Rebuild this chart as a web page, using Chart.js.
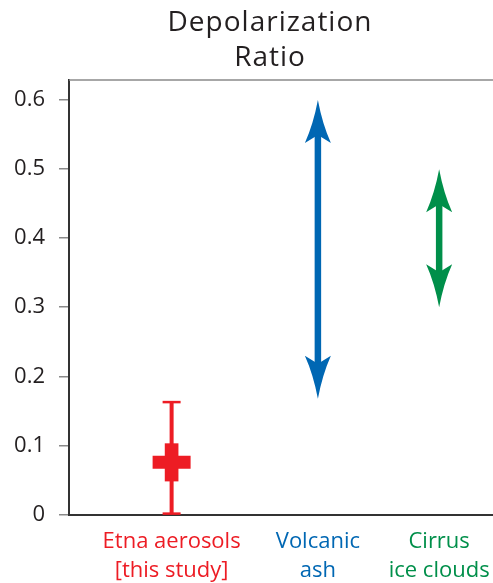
<!DOCTYPE html>
<html>
<head>
<meta charset="utf-8">
<title>Depolarization Ratio</title>
<script src="https://cdn.jsdelivr.net/npm/chart.js@4.4.1/dist/chart.umd.min.js"></script>
<style>
  html, body { margin: 0; padding: 0; background: #fff; }
  #wrap { width: 493px; height: 583px; }
</style>
</head>
<body>
<div id="wrap"><canvas id="myChart"></canvas></div>
<script>
(function () {
  "use strict";

  var titleLines = ["Depolarization", "Ratio"];
  var categories = [["Etna aerosols", "[this study]"], ["Volcanic", "ash"], ["Cirrus", "ice clouds"]];
  var categoryX = [0.242, 0.587, 0.873];
  var categoryColors = ["#ed1c24", "#0067b3", "#008f4a"];
  var yTicks = [0, 0.1, 0.2, 0.3, 0.4, 0.5, 0.6];

  // Etna: full range (whiskers), box, central value
  var etnaRange = [0.002, 0.163];
  var etnaBox = [0.049, 0.103];
  var etnaMean = 0.076;
  // literature ranges, drawn as double arrows
  var ashRange = [0.168, 0.599];
  var cirrusRange = [0.30, 0.499];

  var red = categoryColors[0];

  function drawHead(ctx, x, y, dir) {
    // dir 1 = pointing up, -1 = pointing down
    ctx.beginPath();
    ctx.moveTo(x, y);
    ctx.quadraticCurveTo(x - 4.5, y + dir * 24, x - 13, y + dir * 43);
    ctx.lineTo(x, y + dir * 35);
    ctx.lineTo(x + 13, y + dir * 43);
    ctx.quadraticCurveTo(x + 4.5, y + dir * 24, x, y);
    ctx.closePath();
    ctx.fill();
  }

  var arrows = {
    id: "arrows",
    afterDatasetsDraw: function (chart) {
      var ctx = chart.ctx;
      chart.data.datasets.forEach(function (ds, i) {
        if (!ds.arrowColor) return;
        var pts = chart.getDatasetMeta(i).data;
        var x = pts[0].x;
        var yTop = Math.min(pts[0].y, pts[1].y);
        var yBot = Math.max(pts[0].y, pts[1].y);
        ctx.save();
        ctx.strokeStyle = ds.arrowColor;
        ctx.fillStyle = ds.arrowColor;
        ctx.lineWidth = 6.5;
        ctx.beginPath();
        ctx.moveTo(x, yTop + 30);
        ctx.lineTo(x, yBot - 30);
        ctx.stroke();
        drawHead(ctx, x, yTop, 1);
        drawHead(ctx, x, yBot, -1);
        ctx.restore();
      });
    }
  };

  var frame = {
    id: "frame",
    afterDraw: function (chart) {
      var ctx = chart.ctx;
      var a = chart.chartArea;
      ctx.save();
      // top border
      ctx.strokeStyle = "#8a8a8a";
      ctx.lineWidth = 1.5;
      ctx.beginPath();
      ctx.moveTo(a.left, a.top);
      ctx.lineTo(a.right, a.top);
      ctx.stroke();
      // title
      ctx.fillStyle = "#231f20";
      ctx.font = '28px "Open Sans"';
      ctx.letterSpacing = "1px";
      ctx.textAlign = "center";
      ctx.textBaseline = "alphabetic";
      var cx = (a.left + a.right) / 2 - 11;
      ctx.fillText(titleLines[0], cx, 31);
      ctx.fillText(titleLines[1], cx, 66);
      ctx.restore();
    }
  };

  var tickFont = { family: "Open Sans", size: 22, lineHeight: 1.32 };

  var ctx = document.getElementById("myChart");
  var myChart = new Chart(ctx, {
    type: "line",
    data: {
      datasets: [
        {
          label: "Etna central value",
          data: [{ x: categoryX[0], y: etnaMean }],
          showLine: false,
          pointStyle: "line",
          pointRadius: 19,
          pointBorderWidth: 13,
          borderColor: red,
          backgroundColor: red,
        },
        {
          label: "Etna box",
          type: "bar",
          data: [{ x: categoryX[0], y: etnaBox }],
          barThickness: 13,
          backgroundColor: red,
          borderWidth: 0,
        },
        {
          label: "Etna range",
          data: [
            { x: categoryX[0], y: etnaRange[0] },
            { x: categoryX[0], y: etnaRange[1] },
          ],
          borderColor: red,
          backgroundColor: red,
          borderWidth: 4,
          pointStyle: "line",
          pointRadius: 9,
          pointBorderWidth: 2.5,
        },
        {
          label: "Volcanic ash",
          data: [
            { x: categoryX[1], y: ashRange[0] },
            { x: categoryX[1], y: ashRange[1] },
          ],
          arrowColor: categoryColors[1],
          showLine: false,
          pointRadius: 0,
        },
        {
          label: "Cirrus ice clouds",
          data: [
            { x: categoryX[2], y: cirrusRange[0] },
            { x: categoryX[2], y: cirrusRange[1] },
          ],
          arrowColor: categoryColors[2],
          showLine: false,
          pointRadius: 0,
        },
      ],
    },
    options: {
      responsive: true,
      maintainAspectRatio: false,
      animation: false,
      events: [],
      layout: { autoPadding: false, padding: { top: 80, left: 0, right: 0, bottom: 0 } },
      plugins: {
        legend: { display: false },
        tooltip: { enabled: false },
        title: { display: false },
      },
      scales: {
        x: {
          type: "linear",
          min: 0,
          max: 1,
          offset: false,
          grid: { display: false, offset: false },
          border: { display: true, color: "#333", width: 2 },
          afterBuildTicks: function (scale) {
            scale.ticks = categoryX.map(function (v) { return { value: v }; });
          },
          afterFit: function (scale) {
            scale.height = 68;
            scale.paddingLeft = 0;
            scale.paddingRight = 0;
          },
          ticks: {
            autoSkip: false,
            maxRotation: 0,
            padding: 4,
            font: tickFont,
            color: function (c) { return categoryColors[c.index]; },
            callback: function (v, i) { return categories[i]; },
          },
        },
        y: {
          type: "linear",
          min: 0,
          max: 0.628,
          afterBuildTicks: function (scale) {
            scale.ticks = yTicks.map(function (v) { return { value: v }; });
          },
          afterFit: function (scale) {
            scale.width = 69;
            scale.paddingTop = 0;
            scale.paddingBottom = 0;
          },
          grid: {
            drawOnChartArea: false,
            drawTicks: true,
            tickLength: 10,
            color: "#8a8a8a",
            lineWidth: 1.5,
          },
          border: { display: true, color: "#333", width: 2 },
          ticks: {
            padding: 14,
            font: tickFont,
            color: "#231f20",
            callback: function (v) { return v === 0 ? "0" : v.toFixed(1); },
          },
        },
      },
    },
    plugins: [arrows, frame],
  });
})();
</script>
</body>
</html>
